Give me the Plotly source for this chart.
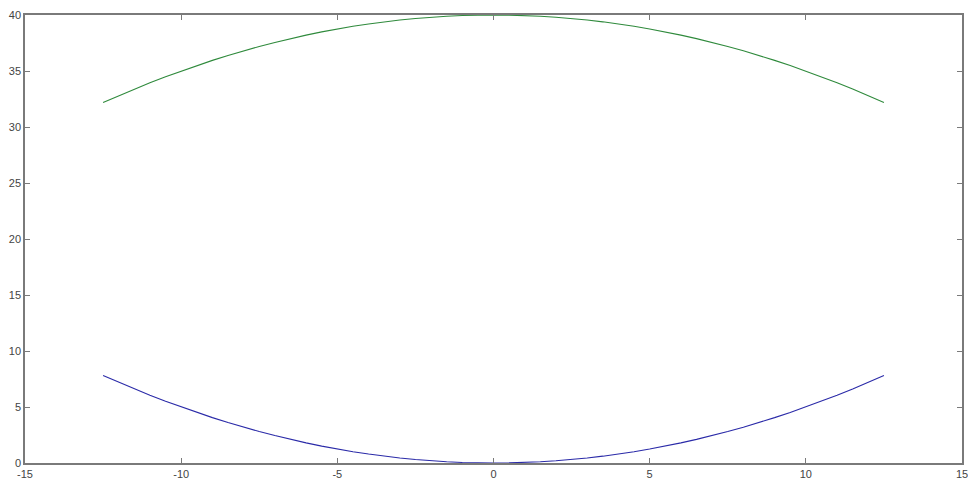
import plotly.graph_objects as go

x_vals = [-12.5, -12, -11.5, -11, -10.5, -10, -9.5, -9, -8.5, -8, -7.5, -7, -6.5, -6,
          -5.5, -5, -4.5, -4, -3.5, -3, -2.5, -2, -1.5, -1, -0.5, 0,
          0.5, 1, 1.5, 2, 2.5, 3, 3.5, 4, 4.5, 5, 5.5, 6, 6.5, 7, 7.5, 8, 8.5,
          9, 9.5, 10, 10.5, 11, 11.5, 12, 12.5]

blue_half = [7.81, 7.2, 6.61, 6.05, 5.51, 5.0, 4.51, 4.05, 3.61, 3.2, 2.81, 2.45, 2.11,
             1.8, 1.51, 1.25, 1.01, 0.8, 0.61, 0.45, 0.31, 0.2, 0.11, 0.05, 0.01, 0.0]
blue_vals = blue_half + blue_half[-2::-1]

green_half = [32.19, 32.8, 33.39, 33.95, 34.49, 35.0, 35.49, 35.95, 36.39, 36.8, 37.19,
              37.55, 37.89, 38.2, 38.49, 38.75, 38.99, 39.2, 39.39, 39.55, 39.69, 39.8,
              39.89, 39.95, 39.99, 40.0]
green_vals = green_half + green_half[-2::-1]

x_ticks = [-15, -10, -5, 0, 5, 10, 15]
y_ticks = [0, 5, 10, 15, 20, 25, 30, 35, 40]

fig = go.Figure()
fig.add_trace(go.Scatter(x=x_vals, y=blue_vals, mode="lines",
                         line=dict(color="#2a2aa8", width=1.1), showlegend=False))
fig.add_trace(go.Scatter(x=x_vals, y=green_vals, mode="lines",
                         line=dict(color="#2f8a3c", width=1.1), showlegend=False))

axis_common = dict(showgrid=False, zeroline=False, showline=True, linecolor="#7a7a7a",
                   linewidth=1.5, mirror="ticks", ticks="inside", ticklen=5,
                   tickcolor="#7a7a7a", tickwidth=1, automargin=False,
                   ticklabeloverflow="allow",
                   tickfont=dict(family="Liberation Sans, Arial", size=11, color="#444"))

fig.update_xaxes(range=[-15, 15], tickvals=x_ticks, ticktext=[str(v) for v in x_ticks],
                 **axis_common)
fig.update_yaxes(range=[0, 40], tickvals=y_ticks, ticktext=[str(v) for v in y_ticks],
                 **axis_common)

fig.update_layout(width=968, height=479, paper_bgcolor="white", plot_bgcolor="white",
                  margin=dict(l=25, r=6, t=15, b=16, autoexpand=False))

fig.write_html("out.html", config={"displayModeBar": False},
               post_script="document.body.style.margin='0';document.body.style.overflow='hidden';")
